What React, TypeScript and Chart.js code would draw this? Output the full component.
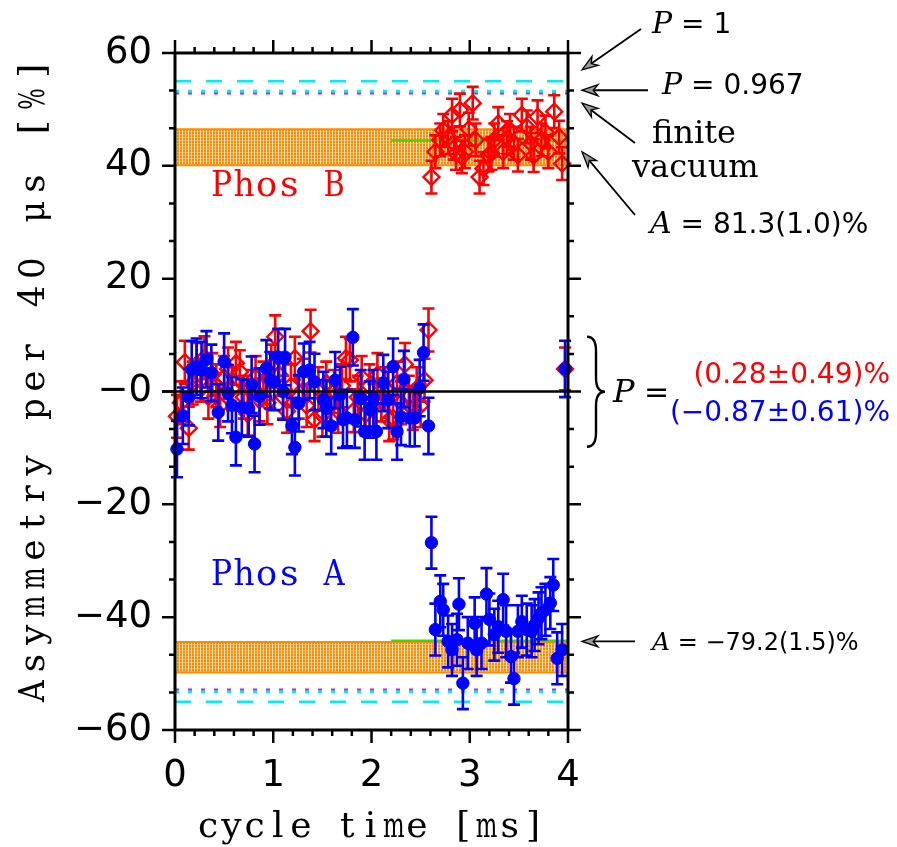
import React, { useEffect, useRef } from 'react';
import { Chart, registerables } from 'chart.js';

Chart.register(...registerables);

// ---------------- data ----------------
const X_TICKS = [0, 1, 2, 3, 4];
const Y_TICKS = [-60, -40, -20, 0, 20, 40, 60];

// Phos B (red, open diamonds) – unpolarized part (plus last bin)
const PHOS_B_UNPOL_X = [
  0.02, 0.06, 0.10, 0.14, 0.18, 0.22, 0.26, 0.30, 0.34, 0.38,
  0.42, 0.46, 0.50, 0.54, 0.58, 0.62, 0.66, 0.70, 0.74, 0.78,
  0.82, 0.86, 0.90, 0.94, 0.98, 1.02, 1.06, 1.10, 1.14, 1.18,
  1.22, 1.26, 1.30, 1.34, 1.38, 1.42, 1.46, 1.50, 1.54, 1.58,
  1.62, 1.66, 1.70, 1.74, 1.78, 1.82, 1.86, 1.90, 1.94, 1.98,
  2.02, 2.06, 2.10, 2.14, 2.18, 2.22, 2.26, 2.30, 2.34, 2.38,
  2.42, 2.46, 2.50, 2.54, 2.58, 3.97,
];
const PHOS_B_UNPOL_Y = [
  -4.4, -2.0, 5.2, -6.5, 1.5, 4.8, 2.0, 6.0, -1.0, 3.0,
  1.0, -2.5, 2.5, 4.0, 0.5, 5.0, 3.5, -1.0, -4.0, 0.0,
  2.5, -1.5, 1.5, -2.0, 4.5, 9.7, 3.0, -1.0, -3.5, 1.0,
  5.9, -1.0, 2.0, -2.5, 10.7, -5.0, 0.5, -4.2, 1.5, -2.0,
  0.0, -3.5, 1.0, 5.9, 5.6, -3.4, -1.0, 2.5, -4.0, 1.0,
  -2.5, 3.0, -1.5, 0.5, -5.0, -4.7, 1.5, -2.0, 4.8, -1.0,
  -3.0, 0.5, -2.5, 2.0, 10.9, 4.0,
];
const PHOS_B_UNPOL_ERR = 3.8;

// Phos B – polarized part
const PHOS_B_POL_X = [
  2.61, 2.65, 2.70, 2.73, 2.78, 2.82, 2.84, 2.86, 2.90, 2.92,
  2.95, 2.99, 3.03, 3.06, 3.10, 3.14, 3.19, 3.22, 3.25, 3.29,
  3.34, 3.38, 3.41, 3.45, 3.49, 3.53, 3.58, 3.62, 3.65, 3.69,
  3.73, 3.77, 3.80, 3.86, 3.91, 3.94,
];
const PHOS_B_POL_Y = [
  38.0, 42.5, 44.6, 46.3, 45.0, 49.0, 44.0, 42.2, 49.9, 41.6,
  42.5, 46.5, 51.1, 44.6, 38.0, 39.5, 41.9, 42.2, 44.6, 47.5,
  42.5, 45.0, 46.3, 44.0, 41.9, 49.0, 46.9, 44.0, 41.8, 48.7,
  44.6, 46.0, 42.5, 49.6, 45.1, 40.4,
];
const PHOS_B_POL_ERR = 2.9;

// Phos A (blue, filled circles) – unpolarized part (plus last bin)
const PHOS_A_UNPOL_X = [
  0.02, 0.08, 0.14, 0.17, 0.22, 0.27, 0.32, 0.37, 0.44, 0.50,
  0.54, 0.58, 0.62, 0.68, 0.75, 0.78, 0.81, 0.86, 0.93, 0.97,
  1.01, 1.05, 1.10, 1.12, 1.19, 1.22, 1.26, 1.31, 1.37, 1.42,
  1.51, 1.54, 1.59, 1.63, 1.68, 1.71, 1.75, 1.81, 1.83, 1.89,
  1.93, 1.98, 2.02, 2.05, 2.12, 2.17, 2.22, 2.26, 2.30, 2.33,
  2.39, 2.44, 2.49, 2.53, 2.58, 3.97,
];
const PHOS_A_UNPOL_Y = [
  -10.2, -4.3, -1.0, 3.9, 4.4, 3.8, 5.7, 3.3, -3.7, 5.3,
  -0.3, -2.4, -8.1, -2.8, -3.0, 1.2, -9.3, -0.9, 4.1, 2.0,
  1.7, 6.1, 0.0, 6.1, -6.1, -9.9, -2.1, 3.5, 3.8, 1.7,
  -1.5, -3.0, -6.1, 2.0, -0.6, -5.0, -4.7, 9.6, -5.0, -1.2,
  -7.1, -3.2, -1.2, -7.1, 1.5, -1.5, 4.4, -7.1, -4.5, 2.2,
  -4.7, -4.7, 0.6, 6.9, -6.1, 4.0,
];
const PHOS_A_UNPOL_ERR = 5.0;

// Phos A – polarized part
const PHOS_A_POL_X = [
  2.61, 2.65, 2.70, 2.73, 2.78, 2.82, 2.87, 2.89, 2.93, 2.98,
  3.05, 3.07, 3.12, 3.17, 3.20, 3.25, 3.29, 3.34, 3.37, 3.42,
  3.45, 3.49, 3.53, 3.58, 3.63, 3.66, 3.70, 3.73, 3.77, 3.82,
  3.85, 3.89, 3.94,
];
const PHOS_A_POL_Y = [
  -26.8, -42.2, -37.2, -38.7, -44.3, -45.8, -44.0, -37.7, -51.7, -44.6,
  -41.1, -45.8, -44.6, -35.9, -40.4, -43.1, -41.7, -36.9, -42.5, -47.0,
  -50.9, -42.5, -40.8, -42.2, -42.5, -41.4, -40.2, -39.3, -38.7, -37.5,
  -34.3, -47.3, -45.8,
];
const PHOS_A_POL_ERR = 4.6;

// reference levels
const P1_LEVELS = [55, -55];
const P0967_LEVELS = [53.2, -53.2];
const VACUUM_LEVELS = [52.9, -52.9];
const BAND_B = [40.1, 46.5];
const BAND_A = [-49.8, -44.4];
const FIT_B = 44.5;
const FIT_A = -44.2;
const FIT_RANGE = [2.2, 4];
const X_RANGE = [0, 4];
const Y_RANGE = [-60, 60];

// texts
const X_TITLE = 'cycle time [ms]';
const Y_TITLE = 'Asymmetry per 40 μs [%]';
const LABEL_B = 'Phos B';
const LABEL_A = 'Phos A';
const P_RED = '(0.28±0.49)%';
const P_BLUE = '(−0.87±0.61)%';

// ---------------- helpers ----------------
const RED = '#ff0000';
const BLUE = '#0000ff';
const CYAN = '#00eeee';
const MAGENTA = '#ff00ff';
const GREEN = '#33dd00';
const ORANGE = '#ff8a00';
const SANS = '"DejaVu Sans", "Liberation Sans", sans-serif';
const SERIF = '"DejaVu Serif", "Liberation Serif", serif';

const pts = (xs: number[], ys: number[]) => xs.map((x, i) => ({ x, y: ys[i] }));
const errs = (xs: number[], e: number) => xs.map(() => e);

function fmt(v: number) {
  if (v === 0) return '−0';
  return v < 0 ? '−' + Math.abs(v) : String(v);
}

let bandPattern: CanvasPattern | null = null;
function getPattern(ctx: CanvasRenderingContext2D) {
  if (bandPattern) return bandPattern;
  const c = document.createElement('canvas');
  c.width = 3;
  c.height = 3;
  const p = c.getContext('2d')!;
  p.fillStyle = ORANGE;
  p.fillRect(0, 0, 3, 3);
  p.fillStyle = 'rgba(255,255,255,0.75)';
  p.fillRect(2, 0, 1, 3);
  p.fillStyle = 'rgba(255,255,255,0.3)';
  p.fillRect(0, 2, 2, 1);
  bandPattern = ctx.createPattern(c, 'repeat');
  return bandPattern;
}

// typewriter-like text: serif glyphs on a fixed pitch
function monoText(
  ctx: CanvasRenderingContext2D,
  text: string,
  x: number,
  y: number,
  pitch: number,
  size: number,
  align = 'left',
) {
  ctx.font = `${size}px ${SERIF}`;
  const chars = Array.from(text);
  const total = chars.length * pitch;
  let cx = align === 'center' ? x - total / 2 : x;
  ctx.textAlign = 'center';
  ctx.textBaseline = 'alphabetic';
  chars.forEach((ch) => {
    if (ch !== ' ') {
      const w = ctx.measureText(ch).width;
      const maxW = Math.min(pitch, 23) * 0.94;
      const s = w > maxW ? maxW / w : 1;
      ctx.save();
      ctx.translate(cx + pitch / 2, y);
      ctx.scale(s, 1);
      ctx.fillText(ch, 0, 0);
      ctx.restore();
    }
    cx += pitch;
  });
}

function drawSegs(ctx: CanvasRenderingContext2D, x: number, y: number, segs: { t: string; f: string; c?: string }[], align = 'left') {
  let total = 0;
  segs.forEach((s) => {
    ctx.font = s.f;
    total += ctx.measureText(s.t).width;
  });
  let cx = align === 'right' ? x - total : x;
  ctx.textAlign = 'left';
  ctx.textBaseline = 'alphabetic';
  segs.forEach((s) => {
    ctx.font = s.f;
    ctx.fillStyle = s.c || '#000';
    ctx.fillText(s.t, cx, y);
    cx += ctx.measureText(s.t).width;
  });
}

function arrow(ctx: CanvasRenderingContext2D, x1: number, y1: number, x2: number, y2: number) {
  const ang = Math.atan2(y2 - y1, x2 - x1);
  const L = 16;
  const W = 5.5;
  const cs = Math.cos(ang);
  const sn = Math.sin(ang);
  ctx.strokeStyle = '#000';
  ctx.lineWidth = 1.8;
  ctx.beginPath();
  ctx.moveTo(x1, y1);
  ctx.lineTo(x2 - cs * L * 0.6, y2 - sn * L * 0.6);
  ctx.stroke();
  const bx = x2 - cs * L;
  const by = y2 - sn * L;
  const nx = -sn * W;
  const ny = cs * W;
  ctx.beginPath();
  ctx.moveTo(x2, y2);
  ctx.lineTo(bx + nx, by + ny);
  ctx.lineTo(x2 - cs * L * 0.7, y2 - sn * L * 0.7);
  ctx.lineTo(bx - nx, by - ny);
  ctx.closePath();
  ctx.fillStyle = '#9a9a9a';
  ctx.fill();
  ctx.lineWidth = 1.3;
  ctx.stroke();
}

function brace(ctx: CanvasRenderingContext2D, x0: number, yt: number, yb: number, w: number) {
  const ym = (yt + yb) / 2;
  const xm = x0 + w * 0.5;
  const x1 = x0 + w;
  const r = 14;
  ctx.beginPath();
  ctx.moveTo(x0, yt);
  ctx.quadraticCurveTo(xm, yt, xm, yt + r);
  ctx.lineTo(xm, ym - r);
  ctx.quadraticCurveTo(xm, ym, x1, ym);
  ctx.quadraticCurveTo(xm, ym, xm, ym + r);
  ctx.lineTo(xm, yb - r);
  ctx.quadraticCurveTo(xm, yb, x0, yb);
  ctx.strokeStyle = '#000';
  ctx.lineWidth = 2.4;
  ctx.stroke();
}

// ---------------- plugins ----------------
const bandsPlugin = {
  id: 'bands',
  beforeDatasetsDraw(chart: any) {
    const { ctx, scales } = chart;
    const xs = scales.x;
    const ys = scales.y;
    ctx.save();
    [BAND_B, BAND_A].forEach((b) => {
      const l = xs.getPixelForValue(X_RANGE[0]);
      const r = xs.getPixelForValue(X_RANGE[1]);
      const t = ys.getPixelForValue(b[1]);
      const bo = ys.getPixelForValue(b[0]);
      ctx.fillStyle = getPattern(ctx);
      ctx.fillRect(l, t, r - l, bo - t);
      ctx.strokeStyle = ORANGE;
      ctx.lineWidth = 2;
      ctx.beginPath();
      ctx.moveTo(l, t);
      ctx.lineTo(r, t);
      ctx.moveTo(l, bo);
      ctx.lineTo(r, bo);
      ctx.stroke();
    });
    ctx.restore();
  },
};

const errorBarPlugin = {
  id: 'errbars',
  beforeDatasetDraw(chart: any, args: any) {
    const ds = chart.data.datasets[args.index];
    if (!ds.errors) return;
    const { ctx, scales } = chart;
    const xs = scales.x;
    const ys = scales.y;
    ctx.save();
    ctx.strokeStyle = ds.borderColor;
    ctx.lineWidth = 2.6;
    ds.data.forEach((p: any, i: number) => {
      const e = ds.errors[i];
      const px = xs.getPixelForValue(p.x);
      const y1 = ys.getPixelForValue(p.y + e);
      const y2 = ys.getPixelForValue(p.y - e);
      ctx.beginPath();
      ctx.moveTo(px, y1);
      ctx.lineTo(px, y2);
      ctx.moveTo(px - 6, y1);
      ctx.lineTo(px + 6, y1);
      ctx.moveTo(px - 6, y2);
      ctx.lineTo(px + 6, y2);
      ctx.stroke();
    });
    ctx.restore();
  },
};

const zeroLinePlugin = {
  id: 'zeroLine',
  afterDatasetsDraw(chart: any) {
    const { ctx, chartArea: a, scales } = chart;
    const y0 = scales.y.getPixelForValue(0);
    ctx.save();
    ctx.strokeStyle = '#000';
    ctx.lineWidth = 2.5;
    ctx.beginPath();
    ctx.moveTo(a.left - 13, y0);
    ctx.lineTo(a.right, y0);
    ctx.stroke();
    ctx.restore();
  },
};

const decorPlugin = {
  id: 'decor',
  afterDraw(chart: any) {
    const { ctx, chartArea: a, scales } = chart;
    const xs = scales.x;
    const ys = scales.y;
    ctx.save();
    // frame
    ctx.strokeStyle = '#000';
    ctx.lineWidth = 3;
    ctx.strokeRect(a.left, a.top, a.right - a.left, a.bottom - a.top);
    // ticks (outward)
    ctx.lineWidth = 2.5;
    const MAJ = 13;
    const MIN = 6;
    ctx.beginPath();
    for (let i = 0; i <= 20; i++) {
      const px = xs.getPixelForValue(X_RANGE[0] + i * 0.2);
      const len = i % 5 === 0 ? MAJ : MIN;
      ctx.moveTo(px, a.bottom);
      ctx.lineTo(px, a.bottom + len);
      ctx.moveTo(px, a.top);
      ctx.lineTo(px, a.top - len);
    }
    for (let i = 0; i <= 18; i++) {
      const py = ys.getPixelForValue(Y_RANGE[0] + (i * 20) / 3);
      const len = i % 3 === 0 ? MAJ : MIN;
      ctx.moveTo(a.left, py);
      ctx.lineTo(a.left - len, py);
      ctx.moveTo(a.right, py);
      ctx.lineTo(a.right + len, py);
    }
    ctx.stroke();

    // axis titles (typewriter style)
    ctx.fillStyle = '#000';
    monoText(ctx, X_TITLE, (a.left + a.right) / 2 - 1, 837, 23.2, 36, 'center');
    ctx.save();
    ctx.translate(44, 381);
    ctx.rotate(-Math.PI / 2);
    monoText(ctx, Y_TITLE, 0, 0, 28.2, 36, 'center');
    ctx.restore();

    // Phos labels
    ctx.fillStyle = RED;
    monoText(ctx, LABEL_B, xs.getPixelForValue(0.36), ys.getPixelForValue(34.6), 22.5, 36);
    ctx.fillStyle = BLUE;
    monoText(ctx, LABEL_A, xs.getPixelForValue(0.36), ys.getPixelForValue(-34.3), 22.5, 36);

    // right-hand annotations
    const R = a.right;
    const tipX = R + 14;
    const IT = `italic 30px ${SERIF}`;
    const S28 = `28px ${SANS}`;
    drawSegs(ctx, R + 84, 33, [
      { t: 'P', f: IT },
      { t: ' = 1', f: S28 },
    ]);
    arrow(ctx, R + 73, 29, tipX, ys.getPixelForValue(57));
    drawSegs(ctx, R + 94, 94, [
      { t: 'P', f: IT },
      { t: ' = 0.967', f: S28 },
    ]);
    arrow(ctx, R + 80, ys.getPixelForValue(53.4), tipX, ys.getPixelForValue(53.4));
    ctx.font = `32px ${SERIF}`;
    ctx.fillStyle = '#000';
    ctx.textAlign = 'left';
    ctx.fillText('finite', R + 84, 143);
    ctx.fillText('vacuum', R + 64, 177);
    arrow(ctx, R + 67, 143, tipX, ys.getPixelForValue(51.1));
    arrow(ctx, R + 67, 215, tipX, ys.getPixelForValue(42.5));
    drawSegs(ctx, R + 82, 233, [
      { t: 'A', f: IT },
      { t: ' = 81.3(1.0)%', f: S28 },
    ]);

    brace(ctx, R + 19, ys.getPixelForValue(9.7), ys.getPixelForValue(-9.8), 18);
    drawSegs(ctx, R + 45, 402, [
      { t: 'P', f: `italic 32px ${SERIF}` },
      { t: ' =', f: `30px ${SANS}` },
    ]);
    drawSegs(ctx, 890, 383, [{ t: P_RED, f: S28, c: RED }], 'right');
    drawSegs(ctx, 890, 421, [{ t: P_BLUE, f: S28, c: BLUE }], 'right');

    arrow(ctx, R + 67, ys.getPixelForValue(-44.3), tipX, ys.getPixelForValue(-44.3));
    drawSegs(ctx, R + 84, 650, [
      { t: 'A', f: `italic 25px ${SERIF}` },
      { t: ' = −79.2(1.5)%', f: `24px ${SANS}` },
    ]);
    ctx.restore();
  },
};

// ---------------- component ----------------
export default function App() {
  const ref = useRef<HTMLCanvasElement | null>(null);

  useEffect(() => {
    if (!ref.current) return;
    const hline = (y: number, color: string, dash: number[], width: number, order: number, x0 = X_RANGE[0], x1 = X_RANGE[1]) => ({
      type: 'line',
      data: [
        { x: x0, y },
        { x: x1, y },
      ],
      showLine: true,
      borderColor: color,
      borderDash: dash,
      borderWidth: width,
      pointRadius: 0,
      fill: false,
      order,
    });

    const datasets: any[] = [
      ...VACUUM_LEVELS.map((v) => hline(v, MAGENTA, [4, 9], 3, 12)),
      ...P0967_LEVELS.map((v) => hline(v, CYAN, [4, 9], 3, 11)),
      ...P1_LEVELS.map((v) => hline(v, CYAN, [16, 15], 2.5, 10)),
      hline(FIT_B, GREEN, [], 2.5, 9, FIT_RANGE[0], FIT_RANGE[1]),
      hline(FIT_A, GREEN, [], 2.5, 9, FIT_RANGE[0], FIT_RANGE[1]),
      {
        label: 'Phos B',
        data: pts(PHOS_B_UNPOL_X, PHOS_B_UNPOL_Y),
        errors: errs(PHOS_B_UNPOL_X, PHOS_B_UNPOL_ERR),
        pointStyle: 'rectRot',
        pointRadius: 8,
        borderColor: RED,
        backgroundColor: 'rgba(0,0,0,0)',
        borderWidth: 2.4,
        order: 6,
      },
      {
        label: 'Phos B pol',
        data: pts(PHOS_B_POL_X, PHOS_B_POL_Y),
        errors: errs(PHOS_B_POL_X, PHOS_B_POL_ERR),
        pointStyle: 'rectRot',
        pointRadius: 8,
        borderColor: RED,
        backgroundColor: 'rgba(0,0,0,0)',
        borderWidth: 2.4,
        order: 5,
      },
      {
        label: 'Phos A',
        data: pts(PHOS_A_UNPOL_X, PHOS_A_UNPOL_Y),
        errors: errs(PHOS_A_UNPOL_X, PHOS_A_UNPOL_ERR),
        pointStyle: 'circle',
        pointRadius: 6.2,
        borderColor: BLUE,
        backgroundColor: BLUE,
        borderWidth: 1,
        order: 2,
      },
      {
        label: 'Phos A pol',
        data: pts(PHOS_A_POL_X, PHOS_A_POL_Y),
        errors: errs(PHOS_A_POL_X, PHOS_A_POL_ERR),
        pointStyle: 'circle',
        pointRadius: 6.2,
        borderColor: BLUE,
        backgroundColor: BLUE,
        borderWidth: 1,
        order: 1,
      },
    ];
    datasets.forEach((d) => (d.clip = false));

    const chart = new Chart(ref.current, {
      type: 'scatter',
      data: { datasets },
      options: {
        responsive: false,
        animation: false,
        events: [],
        layout: { padding: { left: 0, top: 53, right: 329, bottom: 0 } },
        plugins: { legend: { display: false }, tooltip: { enabled: false } },
        scales: {
          x: {
            type: 'linear',
            min: X_RANGE[0],
            max: X_RANGE[1],
            afterBuildTicks: (s: any) => {
              s.ticks = X_TICKS.map((v) => ({ value: v }));
            },
            afterFit: (s: any) => {
              s.height = 117;
            },
            grid: { display: false },
            border: { display: false },
            ticks: { font: { family: SANS, size: 37 }, color: '#000', padding: 16, maxRotation: 0 },
          },
          y: {
            type: 'linear',
            min: Y_RANGE[0],
            max: Y_RANGE[1],
            afterBuildTicks: (s: any) => {
              s.ticks = Y_TICKS.map((v) => ({ value: v }));
            },
            afterFit: (s: any) => {
              s.width = 175;
            },
            grid: { display: false },
            border: { display: false },
            ticks: { font: { family: SANS, size: 37 }, color: '#000', padding: 15, callback: (v: any) => fmt(Number(v)) },
          },
        },
      } as any,
      plugins: [bandsPlugin, errorBarPlugin, zeroLinePlugin, decorPlugin],
    });
    return () => chart.destroy();
  }, []);

  return (
    <div style={{ position: 'fixed', left: 0, top: 0, width: 897, height: 847, background: '#fff' }}>
      <canvas ref={ref} width={897} height={847} style={{ display: 'block' }} />
    </div>
  );
}
